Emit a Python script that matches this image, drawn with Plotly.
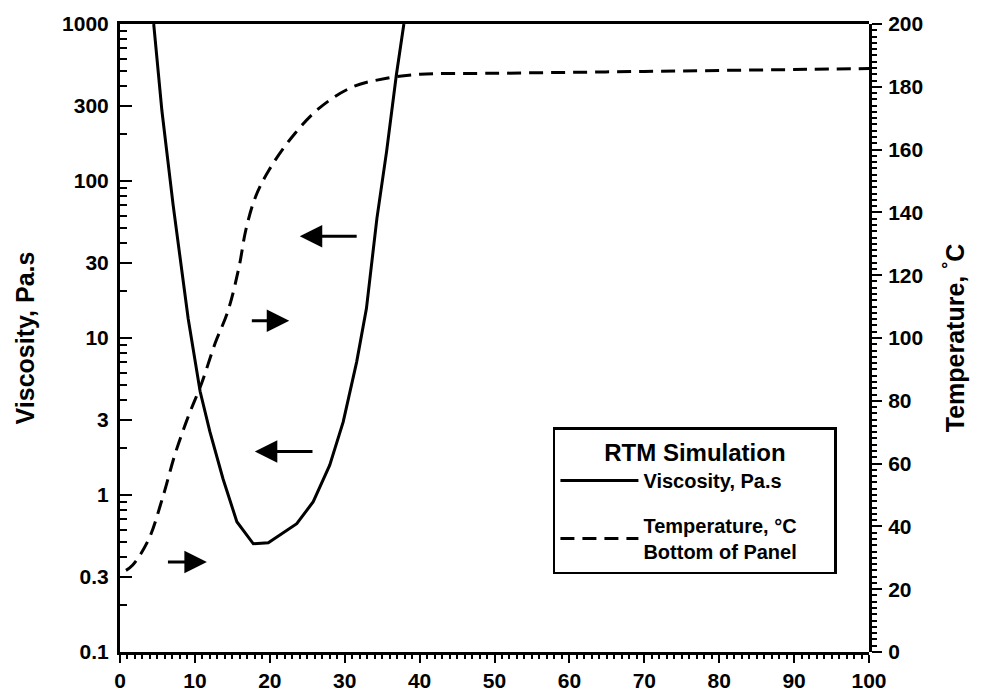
import plotly.graph_objects as go
import numpy as np

# Viscosity (Pa.s) vs time
visc_x = [4.5, 5.6, 7.1, 8.2, 9.1, 10.7, 12.0, 13.75, 15.6, 17.8, 19.8, 23.6, 25.8, 28.0, 29.8, 31.6, 32.9, 34.3, 35.6, 36.9, 37.9]
visc_y = [1000, 279, 70, 29, 13.3, 4.56, 2.53, 1.27, 0.676, 0.489, 0.496, 0.656, 0.906, 1.55, 2.92, 7.05, 15.4, 57.8, 155, 475, 1000]

# Temperature (C), bottom of panel
temp_x = [0.8, 1.7, 3.8, 5.6, 7.4, 9.1, 10.9, 12.7, 14.4, 15.9, 16.8, 18.1, 19.9, 23.0, 26.6, 31.1, 35.6, 40.1, 50, 60, 70, 80, 90, 100]
temp_y = [26, 27.7, 35.7, 48.4, 63.4, 74.9, 85.6, 98.3, 108.5, 122.7, 134.4, 145, 153.5, 164.1, 173.2, 180, 182.7, 184, 184.3, 184.6, 184.9, 185.2, 185.5, 185.8]

# Arrows: (head x, tail x, viscosity level)
arrow_head_x = [24.0, 22.6, 18.0, 11.6]
arrow_tail_x = [31.8, 17.4, 25.9, 6.2]
arrow_y = [44.5, 12.9, 1.89, 0.375]

x_tickvals = list(range(0, 101, 10))
x_minor = [v for v in range(0, 101) if v % 10]
y_tickvals = [0.1, 0.3, 1, 3, 10, 30, 100, 300, 1000]
y_ticktext = ["0.1", "0.3", "1", "3", "10", "30", "100", "300", "1000"]
y_minor = [m * 10.0 ** d for d in range(-1, 3) for m in (2, 4, 5, 6, 7, 8, 9)]
y2_tickvals = list(range(0, 201, 20))
y2_minor = [v for v in range(0, 201, 2) if v % 20]

FONT = "Liberation Sans"

fig = go.Figure()
fig.add_trace(go.Scatter(
    x=visc_x, y=visc_y, mode="lines", name="Viscosity, Pa.s",
    line=dict(color="black", width=3), xaxis="x", yaxis="y", legendgroup="a"))
fig.add_trace(go.Scatter(
    x=temp_x, y=temp_y, mode="lines", name="Temperature, °C<br>Bottom of Panel",
    line=dict(color="black", width=3, dash="14px,8px"), xaxis="x", yaxis="y2",
    line_shape="spline", legendgroup="b"))

for hx, tx, ay in zip(arrow_head_x, arrow_tail_x, arrow_y):
    fig.add_annotation(
        x=hx, y=np.log10(ay), ax=tx, ay=np.log10(ay),
        xref="x", yref="y", axref="x", ayref="y",
        text="", showarrow=True, arrowhead=2, arrowsize=1.5,
        arrowwidth=3, arrowcolor="black")

tickfont = dict(family=FONT, size=21, color="black", weight="bold")
pad = "&nbsp;" * 7

fig.update_layout(
    template="none",
    width=991, height=698,
    margin=dict(l=120, r=122, t=24, b=46, autoexpand=False),
    paper_bgcolor="white", plot_bgcolor="rgba(0,0,0,0)",
    showlegend=True,
    legend=dict(
        x=0.578, y=0.358, xanchor="left", yanchor="top",
        bordercolor="black", borderwidth=2.5, bgcolor="white",
        title=dict(text=pad + "RTM Simulation" + pad, side="top center",
                   font=dict(family=FONT, size=24, color="black", weight="bold")),
        font=dict(family=FONT, size=20, color="black", weight="bold"),
        itemwidth=78, tracegroupgap=16,
    ),
    xaxis=dict(
        range=[0, 100], tickmode="array", tickvals=x_tickvals,
        showline=True, linewidth=3, linecolor="black", mirror=True,
        ticks="outside", ticklen=8, tickwidth=2, tickcolor="black",
        minor=dict(tickmode="array", tickvals=x_minor, ticks="outside", ticklen=4,
                   tickwidth=2, tickcolor="black", showgrid=False),
        showgrid=False, zeroline=False, tickfont=tickfont, automargin=False,
        ticklabelstandoff=0,
    ),
    yaxis=dict(
        type="log", range=[-1, 3], domain=[0, 1], anchor="x",
        tickmode="array", tickvals=y_tickvals, ticktext=y_ticktext,
        showline=True, linewidth=3, linecolor="black",
        ticks="inside", ticklen=12, tickwidth=2, tickcolor="black",
        minor=dict(tickmode="array", tickvals=y_minor, ticks="inside", ticklen=7,
                   tickwidth=2, tickcolor="black", showgrid=False),
        showgrid=False, zeroline=False, tickfont=tickfont, automargin=False,
        ticklabelstandoff=4,
        title=dict(text="Viscosity, Pa.s", standoff=21,
                   font=dict(family=FONT, size=25, color="black", weight="bold")),
    ),
    yaxis2=dict(
        anchor="x", domain=[0, 1], side="right", range=[0, 200],
        tickmode="array", tickvals=y2_tickvals,
        showline=True, linewidth=3, linecolor="black",
        ticks="outside", ticklen=10, tickwidth=2, tickcolor="black",
        minor=dict(tickmode="array", tickvals=y2_minor, ticks="outside", ticklen=5,
                   tickwidth=2, tickcolor="black", showgrid=False),
        showgrid=False, zeroline=False, tickfont=tickfont, automargin=False,
        ticklabelstandoff=2,
        title=dict(text="Temperature, <sup>°</sup>C", standoff=25,
                   font=dict(family=FONT, size=25, color="black", weight="bold")),
    ),
)

fig.write_html("out.html", config={"displayModeBar": False},
               post_script="document.body.style.margin='0';")
